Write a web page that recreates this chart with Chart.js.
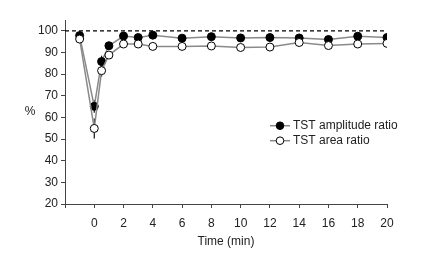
<!DOCTYPE html>
<html>
<head>
<meta charset="utf-8">
<script src="https://cdn.jsdelivr.net/npm/chart.js@4/dist/chart.umd.min.js"></script>
<style>
html,body{margin:0;padding:0;background:#fff;}
#wrap{width:448px;height:266px;}
</style>
</head>
<body>
<div id="wrap"><canvas id="c" width="448" height="266"></canvas></div>
<script>
const times = [-1, 0, 0.5, 1, 2, 3, 4, 6, 8, 10, 12, 14, 16, 18, 20];
const amplitudeRatio = [97.8, 65.1, 85.8, 93.1, 97.6, 96.9, 98.0, 96.6, 97.3, 96.7, 96.9, 96.7, 96.0, 97.5, 96.9];
const areaRatio = [96.2, 54.9, 81.6, 88.8, 93.9, 93.9, 92.8, 92.8, 93.0, 92.3, 92.5, 94.6, 93.2, 93.9, 94.2];
const amplitudeErr = [0, 3, 2.7, 0, 0, 0, 0, 0, 0, 0, 0, 0, 0, 0, 0];
const areaErr = [0, 4.6, 2.8, 0, 0, 0, 0, 0, 0, 0, 0, 0, 0, 0, 0];
const referenceLevel = [100, 100];
const referenceTimes = [-2, 20];
const xTicks = [-2, 0, 2, 4, 6, 8, 10, 12, 14, 16, 18, 20];
const yTicks = [20, 30, 40, 50, 60, 70, 80, 90, 100];
const seriesNames = ['TST amplitude ratio', 'TST area ratio'];
const yTitle = '%';
const xTitle = 'Time (min)';

const FONT = "'Liberation Sans', Arial, sans-serif";
const toXY = (xs, ys) => xs.map((x, i) => ({x: x, y: ys[i]}));

const errorBars = {
  id: 'errorBars',
  beforeDatasetsDraw(chart) {
    const ctx = chart.ctx, xs = chart.scales.x, ys = chart.scales.y;
    ctx.save();
    ctx.strokeStyle = '#111';
    ctx.lineWidth = 1.2;
    const draw = (vals, errs) => {
      vals.forEach((v, i) => {
        if (!errs[i]) return;
        const px = xs.getPixelForValue(times[i]);
        ctx.beginPath();
        ctx.moveTo(px, ys.getPixelForValue(v - errs[i]));
        ctx.lineTo(px, ys.getPixelForValue(v + errs[i]));
        ctx.stroke();
      });
    };
    draw(amplitudeRatio, amplitudeErr);
    draw(areaRatio, areaErr);
    ctx.restore();
  }
};

const customText = {
  id: 'customText',
  afterDraw(chart) {
    const ctx = chart.ctx;
    ctx.save();
    ctx.font = '12px ' + FONT;
    ctx.fillStyle = '#222';
    ctx.textBaseline = 'middle';
    ctx.textAlign = 'center';
    ctx.fillText(yTitle, 30, 112);
    const lx = 270, rows = [125.7, 140.7];
    const fills = ['#000', '#fff'];
    rows.forEach((ry, i) => {
      ctx.strokeStyle = '#888';
      ctx.lineWidth = 1.5;
      ctx.beginPath(); ctx.moveTo(lx, ry); ctx.lineTo(lx + 20, ry); ctx.stroke();
      ctx.beginPath(); ctx.arc(lx + 10, ry, 3.8, 0, Math.PI * 2);
      ctx.fillStyle = fills[i]; ctx.fill();
      ctx.strokeStyle = '#000'; ctx.lineWidth = 1; ctx.stroke();
      ctx.fillStyle = '#222';
      ctx.textAlign = 'left';
      ctx.fillText(seriesNames[i], lx + 23, ry);
    });
    ctx.restore();
  }
};

new Chart(document.getElementById('c'), {
  type: 'line',
  data: {
    datasets: [
      {
        label: seriesNames[1],
        data: toXY(times, areaRatio),
        borderColor: '#8a8a8a', borderWidth: 1.5,
        pointRadius: 4, pointBackgroundColor: '#fff', pointBorderColor: '#000', pointBorderWidth: 1,
        tension: 0
      },
      {
        label: seriesNames[0],
        data: toXY(times, amplitudeRatio),
        borderColor: '#8a8a8a', borderWidth: 1.5,
        pointRadius: 4, pointBackgroundColor: '#000', pointBorderColor: '#000', pointBorderWidth: 1,
        tension: 0
      },
      {
        label: 'ref',
        data: toXY(referenceTimes, referenceLevel),
        borderColor: '#000', borderWidth: 1.2, borderDash: [4, 3],
        pointRadius: 0
      }
    ]
  },
  options: {
    responsive: false,
    animation: false,
    layout: { padding: { left: 20, top: 20, right: 61, bottom: 17 } },
    plugins: { legend: { display: false }, tooltip: { enabled: false } },
    scales: {
      x: {
        type: 'linear', min: -2, max: 20,
        afterBuildTicks: s => { s.ticks = xTicks.map(v => ({value: v})); },
        afterFit: s => { s.height = 45; },
        grid: { display: true, drawOnChartArea: false, drawTicks: true, tickLength: 4, color: '#444' },
        border: { display: true, color: '#444', width: 1 },
        ticks: {
          font: { family: FONT, size: 12 }, color: '#222', padding: 8, maxRotation: 0,
          callback: v => (v === -2 ? '' : String(v))
        },
        title: { display: true, text: xTitle, font: { family: FONT, size: 12 }, color: '#222', padding: { top: 4, bottom: 0 } }
      },
      y: {
        type: 'linear', min: 20, max: 105,
        afterBuildTicks: s => { s.ticks = yTicks.map(v => ({value: v})); },
        afterFit: s => { s.width = 45; },
        grid: { display: true, drawOnChartArea: false, drawTicks: true, tickLength: 4, color: '#444' },
        border: { display: true, color: '#444', width: 1 },
        ticks: { font: { family: FONT, size: 12 }, color: '#222', padding: 3 }
      }
    }
  },
  plugins: [errorBars, customText]
});
</script>
</body>
</html>
